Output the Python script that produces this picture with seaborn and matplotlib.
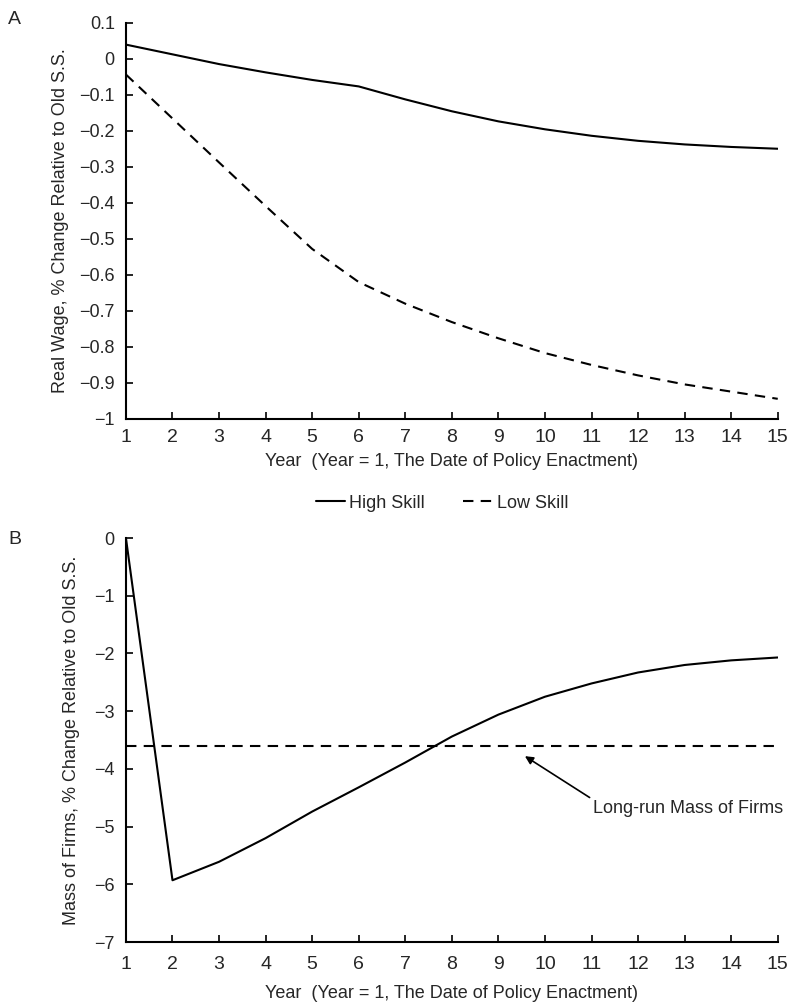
import pandas as pd
import seaborn as sns
import matplotlib.pyplot as plt

# data
years = list(range(1, 16))
high_skill = [0.039, 0.012, -0.015, -0.038, -0.059, -0.077, -0.113, -0.146, -0.174,
              -0.196, -0.214, -0.228, -0.238, -0.245, -0.250]
low_skill = [-0.044, -0.166, -0.288, -0.409, -0.528, -0.620, -0.680, -0.731, -0.776,
             -0.817, -0.850, -0.879, -0.904, -0.924, -0.944]
mass_firms = [0.0, -5.93, -5.61, -5.20, -4.74, -4.32, -3.89, -3.44, -3.06,
              -2.75, -2.52, -2.33, -2.20, -2.12, -2.07]
long_run_mass = -3.6

xlabel = 'Year  (Year = 1, The Date of Policy Enactment)'

sns.set_style('ticks')
plt.rcParams['font.family'] = ['Liberation Sans', 'DejaVu Sans']
plt.rcParams['axes.unicode_minus'] = True

df_wage = pd.DataFrame({'year': years, 'High Skill': high_skill, 'Low Skill': low_skill})
df_wage = df_wage.melt(id_vars='year', var_name='skill', value_name='wage')
df_mass = pd.DataFrame({'year': years, 'mass': mass_firms})

fig = plt.figure(figsize=(7.92, 10.06), dpi=100)
ax1 = fig.add_axes([0.159, 0.5835, 0.823, 0.394])
ax2 = fig.add_axes([0.159, 0.0636, 0.823, 0.4016])

# Panel A
sns.lineplot(data=df_wage, x='year', y='wage', style='skill', color='black',
             dashes={'High Skill': '', 'Low Skill': (5, 3.5)}, linewidth=1.5, ax=ax1)
ax1.set_xlim(1, 15)
ax1.set_ylim(-1, 0.1)
ax1.set_yticks([0.1, 0, -0.1, -0.2, -0.3, -0.4, -0.5, -0.6, -0.7, -0.8, -0.9, -1])
ax1.set_yticklabels(['0.1', '0', '\u22120.1', '\u22120.2', '\u22120.3', '\u22120.4', '\u22120.5',
                     '\u22120.6', '\u22120.7', '\u22120.8', '\u22120.9', '\u22121'])
ax1.set_ylabel('Real Wage, % Change Relative to Old S.S.', fontsize=13, labelpad=7)
handles, labels = ax1.get_legend_handles_labels()
ax1.legend(handles, labels, loc='center', bbox_to_anchor=(0.485, -0.212), ncol=2,
           frameon=False, handlelength=1.6, columnspacing=2.1, handletextpad=0.25,
           prop={'size': 13})

# Panel B
sns.lineplot(data=df_mass, x='year', y='mass', color='black', linewidth=1.5, ax=ax2)
ax2.axhline(long_run_mass, color='black', linewidth=1.5, dashes=(5, 3.5))
ax2.set_xlim(1, 15)
ax2.set_ylim(-7, 0)
ax2.set_yticks([0, -1, -2, -3, -4, -5, -6, -7])
ax2.set_yticklabels(['0', '\u22121', '\u22122', '\u22123', '\u22124', '\u22125', '\u22126', '\u22127'])
ax2.set_ylabel('Mass of Firms, % Change Relative to Old S.S.', fontsize=13, labelpad=10)
ax2.annotate('Long-run Mass of Firms', xy=(9.57, -3.78), xytext=(11.03, -4.68),
             ha='left', va='center', fontsize=13,
             arrowprops=dict(arrowstyle='-|>', color='black', lw=1.2, mutation_scale=12,
                             shrinkA=0, shrinkB=0, relpos=(0, 1)))

for ax, tpad, lpad in ((ax1, 7, 5.5), (ax2, 10, 8.5)):
    ax.set_xticks(years)
    ax.set_xlabel(xlabel, fontsize=13, labelpad=lpad)
    ax.tick_params(direction='in', length=5, width=1.2, color='black')
    ax.tick_params(axis='x', labelsize=14, pad=tpad)
    ax.tick_params(axis='y', labelsize=13, pad=8)
    for s in ('top', 'right'):
        ax.spines[s].set_visible(False)
    for s in ('left', 'bottom'):
        ax.spines[s].set_linewidth(1.5)
        ax.spines[s].set_color('black')

fig.text(0.01, 0.976, 'A', fontsize=14)
fig.text(0.01, 0.459, 'B', fontsize=14)

fig.savefig('out.png', dpi=100)
